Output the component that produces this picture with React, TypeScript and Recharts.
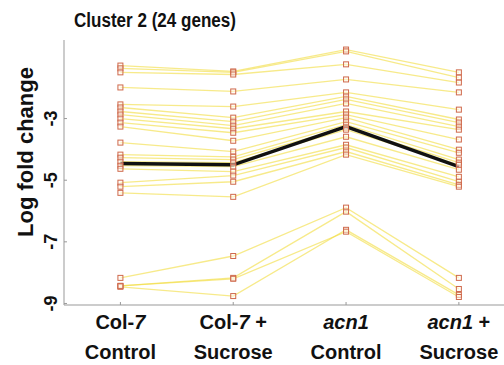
import React from "react";
import { LineChart, Line, XAxis, YAxis } from "recharts";

// Log fold change per gene (24 genes) under each condition
const colControl = [-1.28, -1.37, -1.5, -1.99, -2.54, -2.64, -2.77, -2.87, -3.0, -3.13, -3.26, -3.78, -4.17, -4.27, -4.4, -4.53, -4.63, -5.08, -5.21, -5.41, -8.17, -8.43, -8.46, -8.43];
const colSucrose = [-1.47, -1.5, -1.57, -2.12, -2.61, -2.97, -3.1, -3.23, -3.33, -3.46, -3.72, -4.07, -4.24, -4.33, -4.43, -4.56, -4.72, -4.85, -5.05, -5.54, -7.46, -8.17, -8.76, -8.2];
const acnControl = [-0.76, -0.82, -1.24, -1.73, -2.15, -2.28, -2.38, -2.51, -2.77, -2.87, -2.97, -3.1, -3.2, -3.29, -3.36, -3.59, -3.85, -3.94, -4.07, -4.17, -5.89, -6.02, -6.61, -6.67];
const acnSucrose = [-1.5, -1.67, -1.83, -2.15, -2.71, -3.03, -3.13, -3.26, -3.36, -3.68, -4.01, -4.11, -4.33, -4.43, -4.5, -4.66, -4.89, -5.05, -5.15, -5.21, -8.17, -8.53, -8.72, -8.79];

// Cluster mean profile
const meanProfile = [-4.46, -4.5, -3.26, -4.56];

const categoryTop = ["Col-7", "Col-7 +", "acn1", "acn1 +"];
const categoryBottom = ["Control", "Sucrose", "Control", "Sucrose"];
const yTicks = [-3, -5, -7, -9];

const conditions = [colControl, colSucrose, acnControl, acnSucrose];
const geneCount = colControl.length;

const rows = conditions.map((vals, i) => {
  const row: Record<string, number> = { x: i + 1, mean: meanProfile[i] };
  vals.forEach((v, g) => {
    row["g" + g] = v;
  });
  return row;
});

const FONT = "'Liberation Sans', Arial, sans-serif";
const AXIS_X = 64;
const AXIS_Y = 305;

const SquareDot = (props: any) => {
  const { cx, cy, index } = props;
  if (cx == null || cy == null) return <g key={index} />;
  return (
    <rect
      key={index}
      x={cx - 2.5}
      y={cy - 2.5}
      width={5}
      height={5}
      fill="#fffaf0"
      fillOpacity={0.5}
      stroke="#cf6a4c"
      strokeWidth={1}
    />
  );
};

const italicParts = (s: string) =>
  s.split(/(acn1|7)/).filter((p) => p.length > 0).map((p, k) => (
    <tspan key={k} fontStyle={p === "acn1" || p === "7" ? "italic" : "normal"}>
      {p}
    </tspan>
  ));

const XTick = (props: any) => {
  const { x, payload } = props;
  const idx = Math.round(payload.value) - 1;
  if (idx < 0 || idx > 3) return <g />;
  return (
    <g>
      <line x1={x} x2={x} y1={AXIS_Y} y2={AXIS_Y - 3} stroke="#999" />
      <text x={x} y={329} textAnchor="middle" fontFamily={FONT} fontWeight="bold" fontSize={20} fill="#111">
        {italicParts(categoryTop[idx])}
      </text>
      <text x={x} y={359} textAnchor="middle" fontFamily={FONT} fontWeight="bold" fontSize={20} fill="#111">
        {categoryBottom[idx]}
      </text>
    </g>
  );
};

const YTick = (props: any) => {
  const { y, payload } = props;
  return (
    <g>
      <line x1={AXIS_X} x2={AXIS_X + 3} y1={y} y2={y} stroke="#999" />
      <text
        x={57}
        y={y}
        transform={`rotate(-90, 57, ${y})`}
        textAnchor="middle"
        fontFamily={FONT}
        fontWeight="bold"
        fontSize={18}
        fill="#111"
      >
        {payload.value}
      </text>
    </g>
  );
};

export default function App() {
  const genes = Array.from({ length: geneCount }, (_, g) => "g" + g);
  return (
    <div style={{ position: "absolute", left: 0, top: 0, width: 504, height: 365, background: "#fff" }}>
      <LineChart width={504} height={365} data={rows} margin={{ top: 40, right: 0, bottom: 0, left: 0 }}>
        <text
          x={74}
          y={27}
          fontFamily={FONT}
          fontWeight="bold"
          fontSize={20}
          textLength={162}
          lengthAdjust="spacingAndGlyphs"
          fill="#111"
        >
          Cluster 2 (24 genes)
        </text>
        <text
          x={33}
          y={152}
          transform="rotate(-90, 33, 152)"
          textAnchor="middle"
          fontFamily={FONT}
          fontWeight="bold"
          fontSize={22}
          fill="#111"
        >
          Log fold change
        </text>
        <XAxis
          dataKey="x"
          type="number"
          domain={[0.5, 4.4]}
          ticks={[1, 2, 3, 4]}
          allowDataOverflow
          height={60}
          tickLine={false}
          axisLine={{ stroke: "#999" }}
          tick={<XTick />}
          interval={0}
        />
        <YAxis
          type="number"
          domain={[-9.05, -0.45]}
          ticks={yTicks}
          allowDataOverflow
          width={64}
          tickLine={false}
          axisLine={{ stroke: "#999" }}
          tick={<YTick />}
          interval={0}
        />
        {genes.map((k) => (
          <Line
            key={k}
            dataKey={k}
            type="linear"
            stroke="#f2dc3c"
            strokeOpacity={0.6}
            strokeWidth={1.3}
            dot={SquareDot}
            activeDot={false}
            isAnimationActive={false}
          />
        ))}
        <Line
          dataKey="mean"
          type="linear"
          stroke="#111"
          strokeWidth={3.5}
          dot={false}
          activeDot={false}
          isAnimationActive={false}
        />
      </LineChart>
    </div>
  );
}
